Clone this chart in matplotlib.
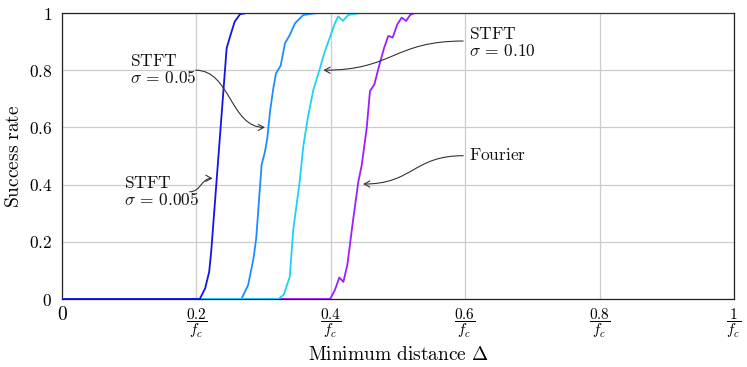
import matplotlib
matplotlib.use("Agg")
import matplotlib.pyplot as plt
from matplotlib.path import Path
from matplotlib.patches import FancyArrowPatch

plt.rcParams['mathtext.fontset'] = 'cm'
plt.rcParams['font.family'] = 'serif'
plt.rcParams['font.serif'] = ['DejaVu Serif']

# ---- data ----
x_s005 = [0.0, 0.205, 0.213, 0.219, 0.222, 0.245, 0.250, 0.257, 0.265, 0.275, 1.0]
y_s005 = [0.0, 0.0, 0.037, 0.095, 0.165, 0.877, 0.917, 0.970, 0.996, 1.0, 1.0]

x_s05 = [0.0, 0.267, 0.277, 0.285, 0.289, 0.297, 0.302, 0.3055, 0.3095, 0.3145,
         0.3185, 0.3254, 0.3318, 0.339, 0.3467, 0.359, 0.379, 1.0]
y_s05 = [0.0, 0.0, 0.049, 0.142, 0.212, 0.469, 0.515, 0.562, 0.655, 0.737,
         0.789, 0.816, 0.894, 0.923, 0.964, 0.993, 1.0, 1.0]

x_s10 = [0.0, 0.322, 0.330, 0.339, 0.344, 0.354, 0.359, 0.366, 0.374, 0.383,
         0.391, 0.399, 0.406, 0.411, 0.418, 0.426, 0.443, 1.0]
y_s10 = [0.0, 0.0, 0.015, 0.078, 0.240, 0.416, 0.533, 0.637, 0.731, 0.800,
         0.865, 0.917, 0.964, 0.988, 0.973, 0.993, 1.0, 1.0]

x_four = [0.0, 0.399, 0.406, 0.4127, 0.4187, 0.4246, 0.4335, 0.441, 0.446, 0.4534,
          0.4583, 0.4648, 0.4722, 0.4792, 0.4856, 0.492, 0.499, 0.5055, 0.512,
          0.518, 0.525, 1.0]
y_four = [0.0, 0.0, 0.031, 0.075, 0.060, 0.119, 0.282, 0.410, 0.468, 0.597,
          0.727, 0.750, 0.818, 0.877, 0.920, 0.914, 0.960, 0.984, 0.972,
          0.993, 1.0, 1.0]

xticks = [0, 0.2, 0.4, 0.6, 0.8, 1.0]
xticklabels = ["$0$", r"$\dfrac{0.2}{f_c}$", r"$\dfrac{0.4}{f_c}$",
               r"$\dfrac{0.6}{f_c}$", r"$\dfrac{0.8}{f_c}$", r"$\dfrac{1}{f_c}$"]
yticks = [0, 0.2, 0.4, 0.6, 0.8, 1.0]
yticklabels = ["$0$", "$0.2$", "$0.4$", "$0.6$", "$0.8$", "$1$"]

c_s005 = "#1414E6"
c_s05 = "#1E8CFF"
c_s10 = "#1ED2F5"
c_four = "#9B1EFF"

fig = plt.figure(figsize=(7.47, 3.67), dpi=100)
ax = fig.add_axes([62/747, 68/367, 672/747, 286/367])

lw = 1.3
ax.plot(x_four, y_four, color=c_four, lw=lw, zorder=3)
ax.plot(x_s05, y_s05, color=c_s05, lw=lw, zorder=4)
ax.plot(x_s10, y_s10, color=c_s10, lw=lw, zorder=5)
ax.plot(x_s005, y_s005, color=c_s005, lw=lw, zorder=6)

ax.set_xlim(0, 1)
ax.set_ylim(0, 1)
ax.set_xticks(xticks)
ax.set_xticklabels(xticklabels, fontsize=11)
ax.get_xticklabels()[0].set_fontsize(14)
ax.set_yticks(yticks)
ax.set_yticklabels(yticklabels, fontsize=12.5)
ax.tick_params(length=0)
ax.tick_params(axis='x', pad=5)
ax.tick_params(axis='y', pad=7)
ax.grid(True, color="#cccccc", lw=0.9, zorder=0)
ax.set_axisbelow(True)
for s in ax.spines.values():
    s.set_color("#222222")
    s.set_linewidth(0.9)

ax.text(-0.071, 0.5, r"$\mathrm{Success\ rate}$", fontsize=14, rotation=90,
        ha="center", va="center", transform=ax.transAxes)
ax.text(0.5, -0.196, r"$\mathrm{Minimum\ distance}\ \Delta$", fontsize=14,
        ha="center", va="center", transform=ax.transAxes)

def s_arrow(p0, p3):
    dx = (p3[0] - p0[0]) * 0.5
    verts = [p0, (p0[0] + dx, p0[1]), (p3[0] - dx, p3[1]), p3]
    codes = [Path.MOVETO, Path.CURVE4, Path.CURVE4, Path.CURVE4]
    arr = FancyArrowPatch(path=Path(verts, codes), arrowstyle="->,head_length=4,head_width=2.2",
                          color="#333333", lw=0.8, zorder=7)
    ax.add_patch(arr)

tkw = dict(fontsize=12.5, color="#111111", linespacing=1.0, zorder=8)
ax.text(0.101, 0.80, "$\\mathrm{STFT}$\n$\\sigma\\,=\\,0.05$", ha="left", va="center", **tkw)
s_arrow((0.199, 0.80), (0.302, 0.60))

ax.text(0.092, 0.375, "$\\mathrm{STFT}$\n$\\sigma\\,=\\,0.005$", ha="left", va="center", **tkw)
s_arrow((0.190, 0.375), (0.224, 0.422))

ax.text(0.605, 0.895, "$\\mathrm{STFT}$\n$\\sigma\\,=\\,0.10$", ha="left", va="center", **tkw)
s_arrow((0.597, 0.902), (0.389, 0.80))

ax.text(0.605, 0.501, r"$\mathrm{Fourier}$", ha="left", va="center", **tkw)
s_arrow((0.597, 0.501), (0.448, 0.402))

fig.savefig("out.png", dpi=100)
